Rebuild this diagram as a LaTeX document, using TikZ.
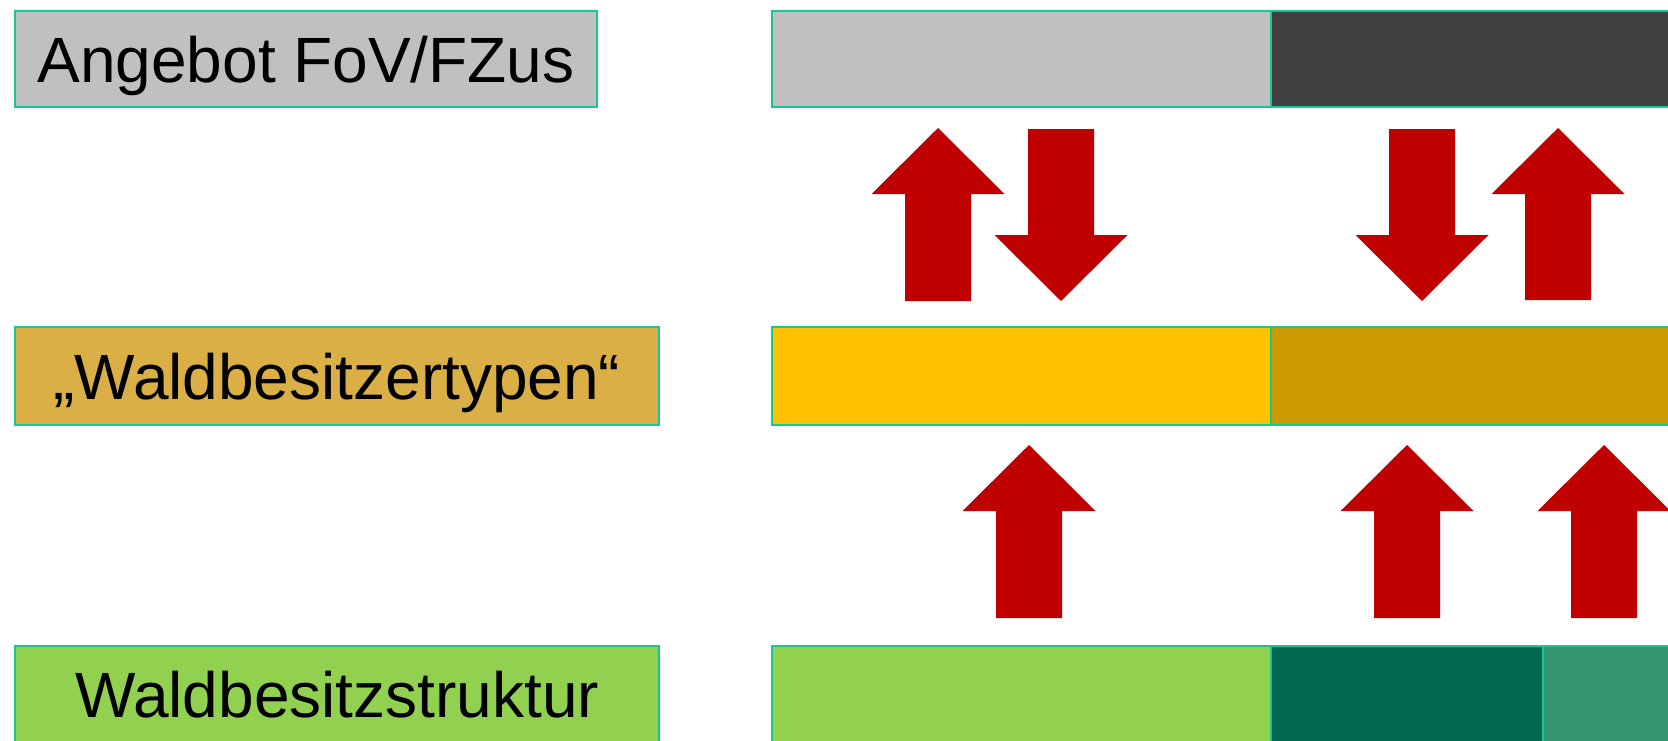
\documentclass[tikz,border=0pt]{standalone}
\usepackage{fontspec}
\setmainfont{Liberation Sans}
\definecolor{edge}{RGB}{20,200,150}
\definecolor{lgray}{RGB}{192,192,192}
\definecolor{dgray}{RGB}{64,64,64}
\definecolor{gold}{RGB}{218,176,70}
\definecolor{yel}{RGB}{255,192,0}
\definecolor{dyel}{RGB}{204,153,0}
\definecolor{lgreen}{RGB}{146,208,80}
\definecolor{dgreen}{RGB}{0,104,80}
\definecolor{mgreen}{RGB}{51,150,110}
\definecolor{arrred}{RGB}{192,0,0}
\newcommand\UpArr[3]{%
  \fill[redarrow] (#1-66.5,#2+66) -- (#1,#2) -- (#1+66.5,#2+66) -- (#1+33,#2+66)
    -- (#1+33,#3) -- (#1-33,#3) -- (#1-33,#2+66) -- cycle;}
\newcommand\DownArr[3]{%
  \fill[redarrow] (#1-66.5,#3-66) -- (#1,#3) -- (#1+66.5,#3-66) -- (#1+33,#3-66)
    -- (#1+33,#2) -- (#1-33,#2) -- (#1-33,#3-66) -- cycle;}
\begin{document}
\begin{tikzpicture}[x=0.5pt,y=-0.5pt,
  redarrow/.style={fill=arrred},
  labelbox/.style={draw=edge,line width=1pt,inner sep=0pt,
    font=\fontsize{32}{38}\selectfont,text height=23pt,text depth=0pt},
  barbox/.style={draw=edge,line width=1pt}]
\clip (0,0) rectangle (1668,740);
\useasboundingbox (0,0) rectangle (1668,740);
\fill[white] (0,0) rectangle (1668,740);
% label boxes
\node[labelbox,fill=lgray,minimum width=291pt,minimum height=48pt] (l1) at (306,59) {Angebot FoV/FZus};
\node[labelbox,fill=gold,minimum width=322pt,minimum height=49pt] (l2) at (337,376) {„Waldbesitzertypen“};
\node[labelbox,fill=lgreen,minimum width=322pt,minimum height=48pt] (l3) at (337,694) {Waldbesitzstruktur};
% bars
\draw[barbox,fill=lgray] (772,11) rectangle (1271,107);
\draw[barbox,fill=dgray] (1271,11) rectangle (1690,107);
\draw[barbox,fill=yel] (772,327) rectangle (1271,425);
\draw[barbox,fill=dyel] (1271,327) rectangle (1690,425);
\draw[barbox,fill=lgreen] (772,646) rectangle (1271,760);
\draw[barbox,fill=dgreen] (1271,646) rectangle (1543,760);
\draw[barbox,fill=mgreen] (1543,646) rectangle (1690,760);
% arrows
\UpArr{938}{128}{301}
\DownArr{1061}{129}{301}
\DownArr{1422}{129}{301}
\UpArr{1558}{128}{300}
\UpArr{1029}{445}{618}
\UpArr{1407}{445}{618}
\UpArr{1604}{445}{618}
\end{tikzpicture}
\end{document}
